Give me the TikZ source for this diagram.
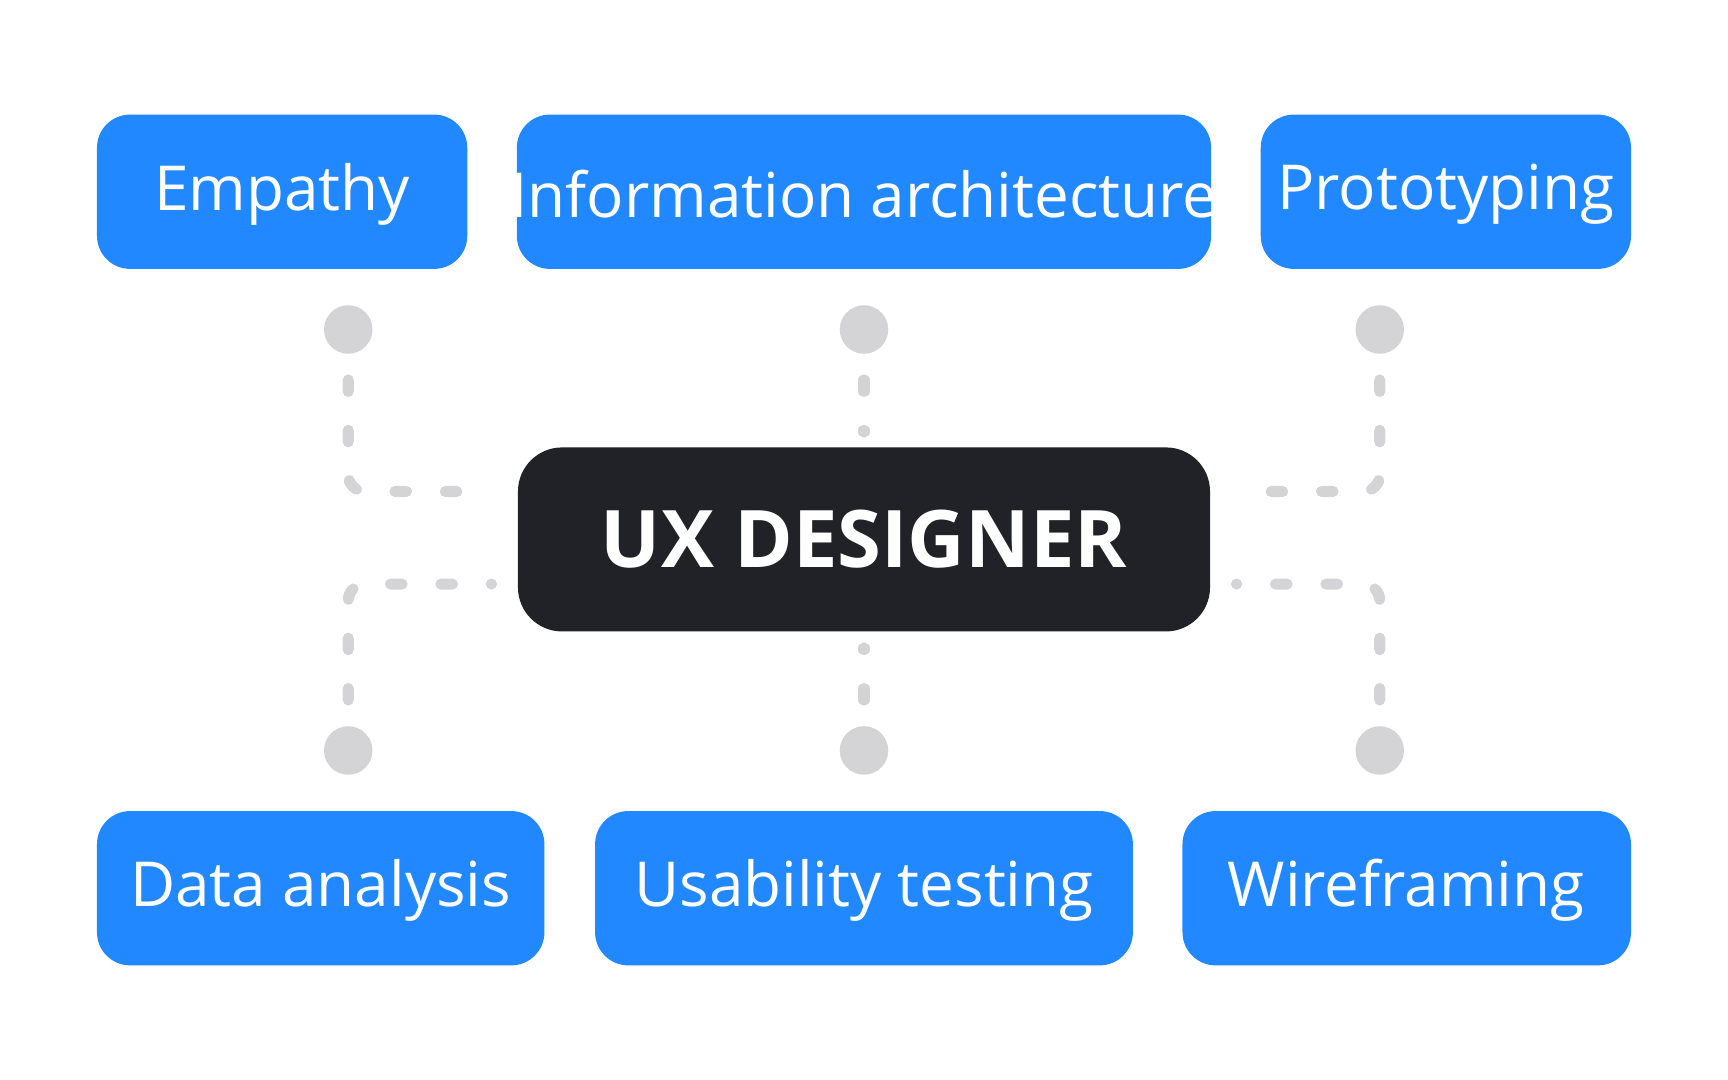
\documentclass[tikz,border=0pt]{standalone}
\usepackage{fontspec}
\setmainfont{Open Sans}
\definecolor{blu}{HTML}{2288FF}
\definecolor{drk}{HTML}{212227}
\definecolor{gry}{HTML}{D4D4D6}
\begin{document}
\begin{tikzpicture}[x=0.01cm,y=-0.01cm,
 skill/.style={draw=none,fill=blu,rounded corners=0.3cm,text=white,font=\fontsize{16}{19}\selectfont},
 conn/.style={gry,line width=0.1cm,line cap=round,dash pattern=on 3pt off 10pt,rounded corners=0.15cm},
 dotc/.style={circle,fill=gry,minimum size=0.44cm,inner sep=0pt}]
\useasboundingbox (0,0) rectangle (1568,980);
\fill[skill] (88,104) rectangle (424,244); \node[text=white,font=\fontsize{16}{19}\selectfont] (e) at (256,176) {Empathy};
\fill[skill] (469,104) rectangle (1099,244); \node[text=white,font=\fontsize{16}{19}\selectfont] (i) at (784,176) {Information architecture};
\fill[skill] (1144,104) rectangle (1480,244); \node[text=white,font=\fontsize{16}{19}\selectfont] (p) at (1312,176) {Prototyping};
\fill[skill] (88,736) rectangle (494,876); \node[text=white,font=\fontsize{16}{19}\selectfont] (d) at (291,808) {Data analysis};
\fill[skill] (540,736) rectangle (1028,876); \node[text=white,font=\fontsize{16}{19}\selectfont] (u) at (784,808) {Usability testing};
\fill[skill] (1073,736) rectangle (1480,876); \node[text=white,font=\fontsize{16}{19}\selectfont] (w) at (1276,808) {Wireframing};
\fill[drk,rounded corners=0.4cm] (470,406) rectangle (1098,573);
\node[text=white,font=\fontsize{20.5}{24}\selectfont\bfseries] (c) at (784,489) {UX DESIGNER};
\foreach \n/\x/\y in {a1/316/299,a2/784/299,a3/1252/299,b1/316/681,b2/784/681,b3/1252/681}
  \coordinate (\n) at (\x,\y);
\draw[conn] (a1) -- (316,446) -- (446,446);
\draw[conn] (a2) -- (784,392);
\draw[conn] (a3) -- (1252,446) -- (1122,446);
\draw[conn] (b1) -- (316,530) -- (446,530);
\draw[conn] (b2) -- (784,588);
\draw[conn] (b3) -- (1252,530) -- (1122,530);
\foreach \n in {a1,a2,a3,b1,b2,b3} \node[dotc] at (\n) {};
\end{tikzpicture}
\end{document}
